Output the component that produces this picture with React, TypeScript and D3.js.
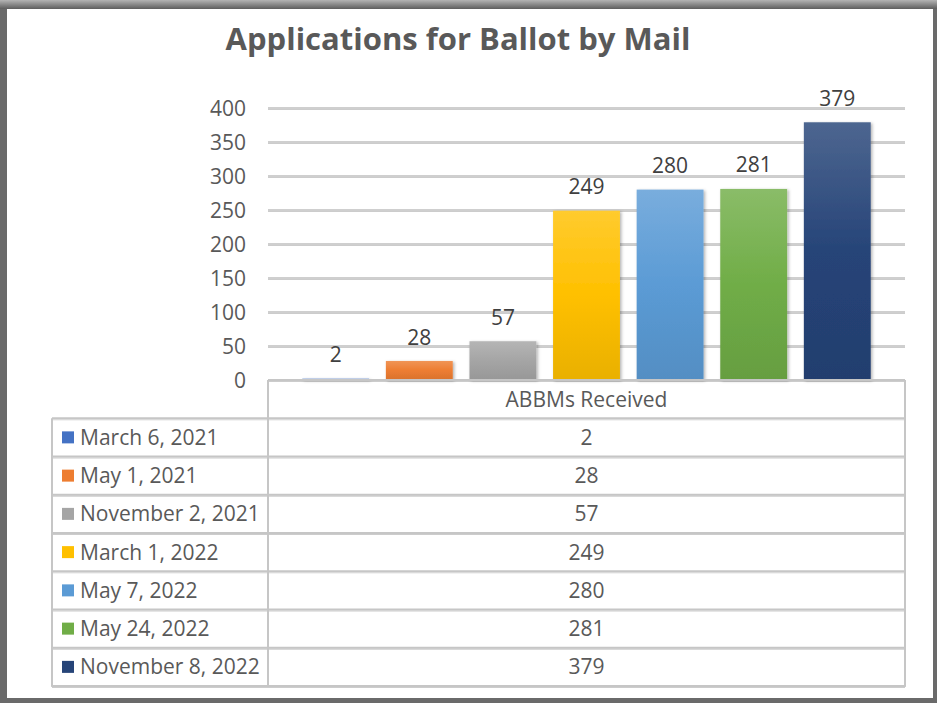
import React from "react";
import * as d3 from "d3";

const title = "Applications for Ballot by Mail";
const seriesName = "ABBMs Received";
const categories = [
  "March 6, 2021",
  "May 1, 2021",
  "November 2, 2021",
  "March 1, 2022",
  "May 7, 2022",
  "May 24, 2022",
  "November 8, 2022",
];
const values = [2, 28, 57, 249, 280, 281, 379];
const colors = ["#4472C4", "#ED7D31", "#A5A5A5", "#FFC000", "#5B9BD5", "#70AD47", "#264478"];
const yTicks = [0, 50, 100, 150, 200, 250, 300, 350, 400];

const W = 937;
const H = 703;
const FONT = "'Open Sans', 'DejaVu Sans', sans-serif";

export default function App() {
  const plotLeft = 268;
  const plotRight = 905;
  const plotTop = 108;
  const plotBottom = 380;
  const tableLeft = 52;
  const tableBottom = 686;

  const y = d3.scaleLinear().domain([0, 400]).range([plotBottom, plotTop]);
  const x = d3
    .scaleBand<string>()
    .domain(categories)
    .range([plotLeft, plotRight])
    .paddingInner(0.2)
    .paddingOuter(0.41);
  const rows = d3
    .scaleBand<string>()
    .domain(["__header__", ...categories])
    .range([plotBottom, tableBottom]);

  const lineColor = "#c6c6c6";
  const textColor = "#595959";
  const fs = 21;

  return (
    <svg
      width={W}
      height={H}
      viewBox={`0 0 ${W} ${H}`}
      style={{ position: "fixed", left: 0, top: 0, display: "block" }}
      fontFamily={FONT}
    >
      <defs>
        <linearGradient id="topFrame" x1="0" y1="0" x2="0" y2="1">
          <stop offset="0" stopColor="#b4b4b4" />
          <stop offset="1" stopColor="#5e5e5e" />
        </linearGradient>
        {colors.map((c, i) => (
          <linearGradient key={i} id={`bar${i}`} x1="0" y1="0" x2="0" y2="1">
            <stop offset="0" stopColor={d3.interpolateRgb(c, "#ffffff")(0.18)} />
            <stop offset="0.5" stopColor={c} />
            <stop offset="1" stopColor={d3.color(c)!.darker(0.25).formatHex()} />
          </linearGradient>
        ))}
        <filter id="shadow" x="-20%" y="-20%" width="140%" height="140%">
          <feDropShadow dx="1.5" dy="1" stdDeviation="1.5" floodColor="#000" floodOpacity="0.3" />
        </filter>
        <filter id="lineShadow" x="-5%" y="-50%" width="110%" height="200%">
          <feDropShadow dx="0" dy="1" stdDeviation="0.6" floodColor="#000" floodOpacity="0.2" />
        </filter>
      </defs>

      {/* outer frame */}
      <rect x={0} y={0} width={W} height={H} fill="#6a6a6a" />
      <rect x={0} y={0} width={W} height={9} fill="url(#topFrame)" />
      <rect x={7} y={9} width={926} height={689} fill="#ffffff" />

      {/* title */}
      <text
        x={458}
        y={50}
        textAnchor="middle"
        fontSize={31}
        fontWeight="bold"
        fill={textColor}
      >
        {title}
      </text>

      {/* gridlines */}
      <g filter="url(#lineShadow)">
        {yTicks
          .filter((t) => t > 0)
          .map((t) => (
            <line
              key={t}
              x1={plotLeft}
              x2={plotRight}
              y1={y(t)}
              y2={y(t)}
              stroke="#cfcfcf"
              strokeWidth={2}
            />
          ))}
      </g>

      {/* y tick labels */}
      {yTicks.map((t) => (
        <text
          key={t}
          x={246}
          y={y(t)}
          dy="0.36em"
          textAnchor="end"
          fontSize={fs}
          fill={textColor}
        >
          {t}
        </text>
      ))}

      {/* bars */}
      <g filter="url(#shadow)">
        {categories.map((c, i) => (
          <rect
            key={c}
            x={x(c)}
            y={y(values[i])}
            width={x.bandwidth()}
            height={plotBottom - y(values[i])}
            fill={`url(#bar${i})`}
          />
        ))}
      </g>

      {/* data labels */}
      {categories.map((c, i) => (
        <text
          key={c}
          x={(x(c) as number) + x.bandwidth() / 2}
          y={y(values[i]) - 24}
          dy="0.36em"
          textAnchor="middle"
          fontSize={fs}
          fill="#404040"
        >
          {values[i]}
        </text>
      ))}

      {/* data table */}
      <g filter="url(#lineShadow)" stroke={lineColor} strokeWidth={2} fill="none">
        <line x1={plotLeft} x2={plotRight} y1={plotBottom} y2={plotBottom} />
        {categories.map((c) => (
          <line
            key={c}
            x1={tableLeft}
            x2={plotRight}
            y1={rows(c)}
            y2={rows(c)}
          />
        ))}
        <line x1={tableLeft} x2={plotRight} y1={tableBottom} y2={tableBottom} />
        <line x1={tableLeft} x2={tableLeft} y1={rows(categories[0])} y2={tableBottom} />
        <line x1={plotLeft} x2={plotLeft} y1={plotBottom} y2={tableBottom} />
        <line x1={plotRight} x2={plotRight} y1={plotBottom} y2={tableBottom} />
      </g>

      <text
        x={(plotLeft + plotRight) / 2}
        y={(rows("__header__") as number) + rows.bandwidth() / 2}
        dy="0.36em"
        textAnchor="middle"
        fontSize={fs}
        fill={textColor}
      >
        {seriesName}
      </text>

      {categories.map((c, i) => {
        const cy = (rows(c) as number) + rows.bandwidth() / 2;
        return (
          <g key={c}>
            <rect x={62} y={cy - 6} width={12} height={12} fill={colors[i]} />
            <text x={80} y={cy} dy="0.36em" fontSize={fs} fill={textColor}>
              {c}
            </text>
            <text
              x={(plotLeft + plotRight) / 2}
              y={cy}
              dy="0.36em"
              textAnchor="middle"
              fontSize={fs}
              fill={textColor}
            >
              {values[i]}
            </text>
          </g>
        );
      })}
    </svg>
  );
}
